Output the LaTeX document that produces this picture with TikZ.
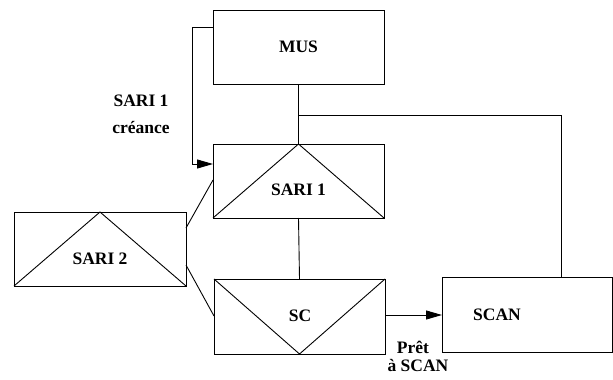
\documentclass[tikz,border=0pt]{standalone}
\usepackage{fontspec}
\setmainfont{Liberation Serif}
\usetikzlibrary{arrows.meta}
\begin{document}
\begin{tikzpicture}[x=1pt,y=-1pt,
  box/.style={draw,line width=0.9pt},
  lbl/.style={font=\fontsize{17.5}{20}\selectfont\bfseries,inner sep=0pt},
  conn/.style={line width=0.9pt},
  arr/.style={conn,-{Triangle[length=16pt,width=9pt]}}]
\useasboundingbox (0,0) rectangle (613,380);
% boxes
\draw[box] (213,10) rectangle (384,84);
\node[lbl] (mus) at (298.5,47) {MUS};
\coordinate (musL) at (213,27);
\coordinate (musB) at (298.5,84);

\draw[box] (213,144) rectangle (384,218);
\draw[conn] (213,218) -- (298.5,144) -- (384,218);
\node[lbl] (sari1) at (298.5,190) {SARI 1};
\coordinate (s1T) at (298.5,144);
\coordinate (s1B) at (298.5,218);
\coordinate (s1L) at (213,164);

\draw[box] (14,212) rectangle (186,286);
\draw[conn] (14,286) -- (100,212) -- (186,286);
\node[lbl] (sari2) at (100,259) {SARI 2};

\draw[box] (214,279) rectangle (385,354);
\draw[conn] (214,279) -- (299.5,354) -- (385,279);
\node[lbl] (sc) at (300,316) {SC};
\coordinate (scT) at (299.5,279);

\draw[box] (442,277) rectangle (612,352);
\node[lbl] (scan) at (497,315) {SCAN};

% connectors
\draw[conn] (musB) -- (s1T);
\coordinate (br) at (298.5,115.5);
\draw[conn] (br) -- (561.5,115.5) -- (561.5,277);
\draw[arr] (musL) -- (192,27) -- (192,164) -- (s1L);
\draw[conn] (s1B) -- (scT);
\draw[conn] (186,228) -- (213,180);
\draw[conn] (186,265) -- (214,316);
\draw[arr] (385,315) -- (442,315);

% labels
\node[lbl] (l1) at (141,101) {SARI 1};
\node[lbl] (l2) at (141,128) {créance};
\node[lbl] (l3) at (413,347) {Prêt};
\node[lbl] (l4) at (418,366) {à SCAN};
\end{tikzpicture}
\end{document}
